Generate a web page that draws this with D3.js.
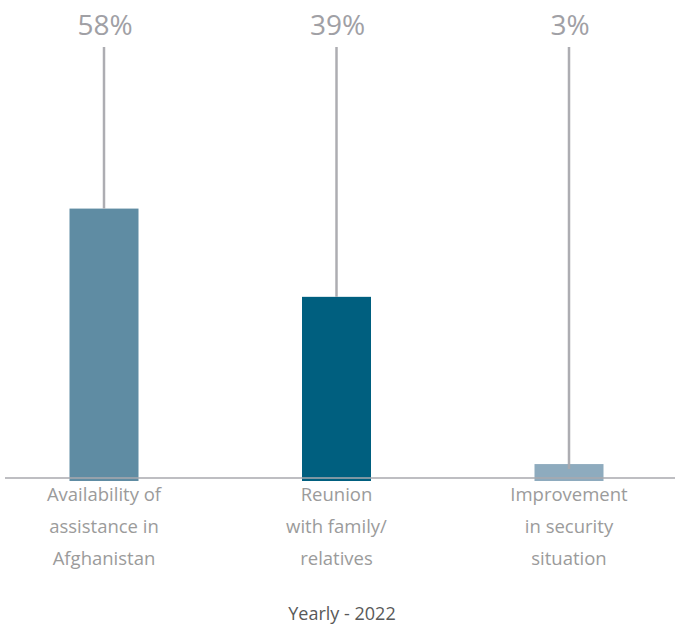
<!DOCTYPE html>
<html>
<head>
<meta charset="utf-8">
<script src="https://cdn.jsdelivr.net/npm/d3@7/dist/d3.min.js"></script>
<style>
  html, body { margin: 0; padding: 0; background: #ffffff; }
  svg { display: block; font-family: "Open Sans", "DejaVu Sans", sans-serif; }
</style>
</head>
<body>
<svg id="chart" width="675" height="629"></svg>
<script>
// Reasons for return, share of respondents (%)
const categories = [
  ["Availability of", "assistance in", "Afghanistan"],
  ["Reunion", "with family/", "relatives"],
  ["Improvement", "in security", "situation"]
];
const values = [58, 39, 3];
const valueLabels = ["58%", "39%", "3%"];
const periodLabel = "Yearly - 2022";

const barColors = ["#5f8ca3", "#005f7f", "#8eabbe"];

const W = 675, H = 629;
const baseline = 478;
const barWidth = 69;

const svg = d3.select("#chart");

const keys = categories.map((c, i) => i);
const x = d3.scalePoint().domain(keys).range([104, 569]);
const y = d3.scaleLinear().domain([0, 62]).range([baseline, 190]);

// bars
svg.append("g").selectAll("rect")
  .data(values)
  .join("rect")
  .attr("x", (d, i) => x(i) - barWidth / 2)
  .attr("y", d => y(d))
  .attr("width", barWidth)
  .attr("height", d => baseline - y(d) + 3)
  .attr("fill", (d, i) => barColors[i]);

// baseline
svg.append("line")
  .attr("x1", 5).attr("x2", W)
  .attr("y1", baseline).attr("y2", baseline)
  .attr("stroke", "#a9a9ae").attr("stroke-width", 1.5);

// leader lines from the value label down to the bar
// (short bars: the leader dips into the bar)
svg.append("g").selectAll("line")
  .data(values)
  .join("line")
  .attr("x1", (d, i) => x(i)).attr("x2", (d, i) => x(i))
  .attr("y1", 47)
  .attr("y2", d => (baseline - y(d) < 40 ? baseline - 9 : y(d)))
  .attr("stroke", "#a9a9ae")
  .attr("stroke-opacity", 0.95)
  .attr("stroke-width", 2.5);

// value labels
svg.append("g").selectAll("text")
  .data(valueLabels)
  .join("text")
  .attr("x", (d, i) => x(i) + 1)
  .attr("y", 35)
  .attr("text-anchor", "middle")
  .attr("font-size", 28)
  .attr("fill", "#a0a0a5")
  .text(d => d);

// category labels (three lines each)
const catG = svg.append("g").selectAll("text")
  .data(categories)
  .join("text")
  .attr("text-anchor", "middle")
  .attr("font-size", 18.5)
  .attr("fill", "#9b9b9b");
catG.selectAll("tspan")
  .data((d, i) => d.map(t => ({ t, i })))
  .join("tspan")
  .attr("x", d => x(d.i))
  .attr("y", (d, j) => 501 + j * 32)
  .text(d => d.t);

// period label
svg.append("text")
  .attr("x", 342)
  .attr("y", 620)
  .attr("text-anchor", "middle")
  .attr("font-size", 18)
  .attr("fill", "#595959")
  .text(periodLabel);
</script>
</body>
</html>
